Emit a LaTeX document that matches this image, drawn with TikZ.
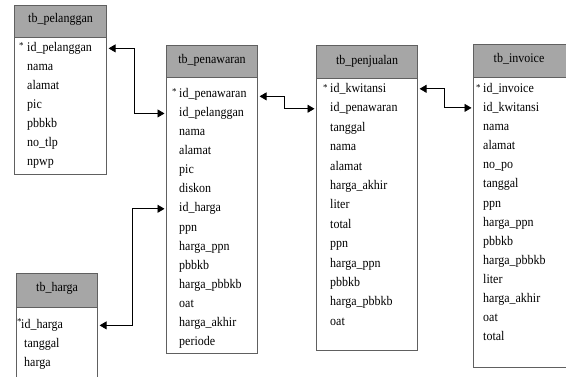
\documentclass[tikz,border=0pt]{standalone}
\usepackage{fontspec}
\setmainfont{Liberation Serif}
\usetikzlibrary{arrows.meta,calc}
\definecolor{headgray}{HTML}{A6A6A6}
\definecolor{boxline}{HTML}{606060}
\tikzset{
  tbox/.style={draw=boxline, line width=1.1pt, fill=white, anchor=north west, inner sep=0pt},
  thead/.style={draw=boxline, line width=1.1pt, fill=headgray, anchor=north west, inner sep=0pt},
  fld/.style={anchor=mid west, inner sep=0pt, yscale=1.1, transform shape, font=\fontsize{12}{14}\selectfont},
  ttl/.style={anchor=center, inner sep=0pt, yscale=1.1, transform shape, font=\fontsize{12}{14}\selectfont},
  star/.style={anchor=mid west, inner sep=0pt, font=\fontsize{9}{9}\selectfont},
  link/.style={draw=black, line width=0.8pt, shorten <=1.5pt, shorten >=1.5pt,
    {Triangle[length=7pt,width=8pt]}-{Triangle[length=7pt,width=8pt]}}
}
\begin{document}
\begin{tikzpicture}[x=1pt,y=-1pt]
\useasboundingbox (0,0) rectangle (566,376);
\begin{scope}
\clip (0,0) rectangle (566,376);
% tb_pelanggan
\node[tbox, minimum width=92pt, minimum height=169pt] (pel) at (14,5) {};
\node[thead, minimum width=92pt, minimum height=32pt] (pelh) at (14,5) {};
\node[ttl] (pelt) at ($(pelh.center)+(0,-2)$) {tb\_pelanggan};
\node[star] (pels) at (19,46) {*};
\foreach \t [count=\i] in {id\_pelanggan,nama,alamat,pic,pbbkb,no\_tlp,npwp}
  \node[fld] (pel\i) at (27,{49+19*(\i-1)}) {\t};
% tb_penawaran
\node[tbox, minimum width=91pt, minimum height=308pt] (paw) at (166,45) {};
\node[thead, minimum width=91pt, minimum height=32pt] (pawh) at (166,45) {};
\node[ttl] (pawt) at ($(pawh.center)+(0,-1)$) {tb\_penawaran};
\node[star] (paws) at (172,92) {*};
\foreach \t [count=\i] in {id\_penawaran,id\_pelanggan,nama,alamat,pic,diskon,id\_harga,ppn,harga\_ppn,pbbkb,harga\_pbbkb,oat,harga\_akhir,periode}
  \node[fld] (paw\i) at (179,{95+19.07*(\i-1)}) {\t};
% tb_penjualan
\node[tbox, minimum width=101pt, minimum height=305pt] (pen) at (316,45) {};
\node[thead, minimum width=101pt, minimum height=33pt] (penh) at (316,45) {};
\node[ttl] (pent) at ($(penh.center)+(0,-1)$) {tb\_penjualan};
\node[star] (pens) at (323,88) {*};
\foreach \t [count=\i] in {id\_kwitansi,id\_penawaran,tanggal,nama,alamat,harga\_akhir,liter,total,ppn,harga\_ppn,pbbkb,harga\_pbbkb,oat}
  \node[fld] (pen\i) at (330,{90+19.4*(\i-1)}) {\t};
% tb_invoice
\node[tbox, minimum width=100pt, minimum height=323pt] (inv) at (473,44) {};
\node[thead, minimum width=100pt, minimum height=33pt] (invh) at (473,44) {};
\node[ttl] (invt) at (519,59) {tb\_invoice};
\node[star] (invs) at (476,88) {*};
\foreach \t [count=\i] in {id\_invoice,id\_kwitansi,nama,alamat,no\_po,tanggal,ppn,harga\_ppn,pbbkb,harga\_pbbkb,liter,harga\_akhir,oat,total}
  \node[fld] (inv\i) at (483,{90+19.08*(\i-1)}) {\t};
% tb_harga
\node[tbox, minimum width=81pt, minimum height=110pt] (hrg) at (16,273) {};
\node[thead, minimum width=81pt, minimum height=34pt] (hrgh) at (16,273) {};
\node[ttl] (hrgt) at ($(hrgh.center)+(0,-2)$) {tb\_harga};
\node[star] (hrgs) at (17,322) {*};
\node[fld] (hrg1) at (21,326) {id\_harga};
\node[fld] (hrg2) at (24,345) {tanggal};
\node[fld] (hrg3) at (24,364) {harga};
\end{scope}
% connectors
\draw[link] (pel.east |- pel1) -- ++(27,0) |- (paw.west |- paw2);
\draw[link] ($(paw.east |- paw1)+(0,2)$) -- ++(26,0) |- (pen.west |- pen2);
\draw[link] (pen.east |- pen1) -- ++(26,0) |- (inv.west |- inv2);
\draw[link] (hrg.east |- hrg1) -- ++(34,0) |- (paw.west |- paw7);
\end{tikzpicture}
\end{document}
